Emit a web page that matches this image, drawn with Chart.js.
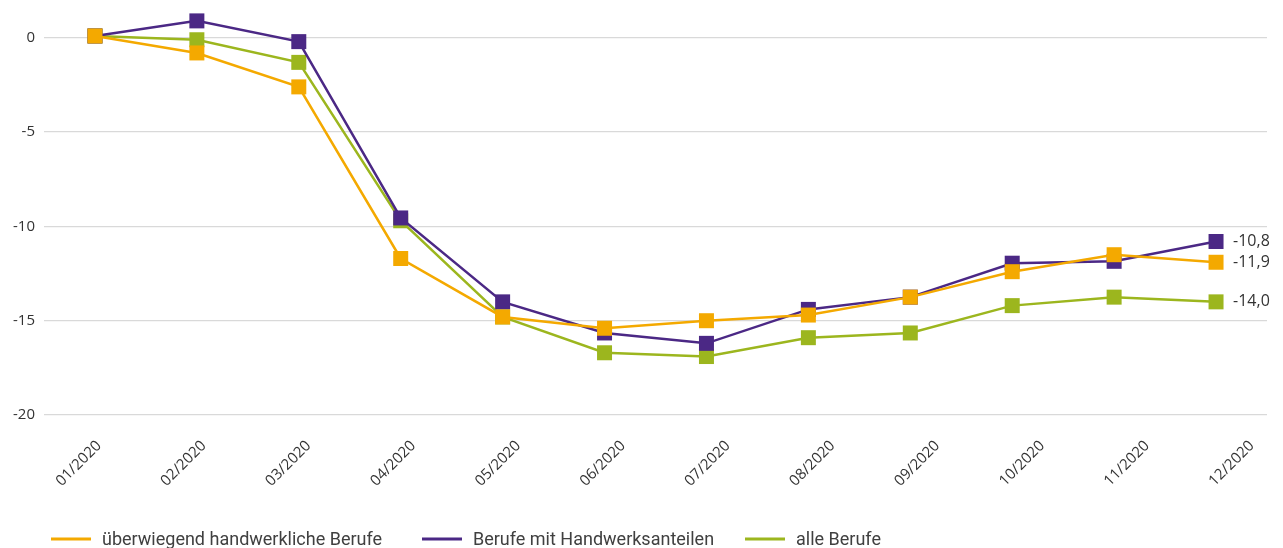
<!DOCTYPE html>
<html>
<head>
<meta charset="utf-8">
<script src="https://cdn.jsdelivr.net/npm/chart.js@4/dist/chart.umd.min.js"></script>
<style>
  html, body { margin: 0; padding: 0; background: #ffffff; }
  #wrap { width: 1283px; height: 548px; position: relative; }
</style>
</head>
<body>
<div id="wrap"><canvas id="c" width="1283" height="548"></canvas></div>
<script>
// ---- data ----
const categories = ['01/2020','02/2020','03/2020','04/2020','05/2020','06/2020','07/2020','08/2020','09/2020','10/2020','11/2020','12/2020'];
const seriesNames = ['überwiegend handwerkliche Berufe', 'Berufe mit Handwerksanteilen', 'alle Berufe'];
const handwerklich     = [0.1, -0.8, -2.6, -11.7, -14.8, -15.4, -15.0, -14.7, -13.75, -12.4, -11.5, -11.9];
const handwerksanteile = [0.1,  0.9, -0.2,  -9.55, -14.0, -15.65, -16.2, -14.4, -13.75, -11.95, -11.85, -10.8];
const alleBerufe       = [0.1, -0.1, -1.3,  -9.7, -14.8, -16.7, -16.9, -15.9, -15.65, -14.2, -13.75, -14.0];
const yTicks = [0, -5, -10, -15, -20];
const colors = ['#F4A900', '#4B2885', '#9CB61E'];

// ---- plugins ----
const endLabelPlugin = {
  id: 'endLabels',
  afterDatasetsDraw(chart) {
    const ctx = chart.ctx;
    ctx.save();
    ctx.font = '16px "Open Sans"';
    ctx.fillStyle = '#333333';
    ctx.textAlign = 'left';
    ctx.textBaseline = 'middle';
    chart.data.datasets.forEach((ds, i) => {
      const meta = chart.getDatasetMeta(i);
      const last = meta.data[meta.data.length - 1];
      const v = ds.data[ds.data.length - 1];
      const txt = v.toFixed(1).replace('.', ',');
      ctx.fillText(txt, last.x + 17, last.y);
    });
    ctx.restore();
  }
};

const legendPlugin = {
  id: 'bottomLegend',
  afterDraw(chart) {
    const ctx = chart.ctx;
    const starts = [51, 422, 745];
    ctx.save();
    chart.data.datasets.forEach((ds, i) => {
      const x = starts[i];
      ctx.strokeStyle = ds.borderColor;
      ctx.lineWidth = 3;
      ctx.beginPath();
      ctx.moveTo(x, 539);
      ctx.lineTo(x + 40, 539);
      ctx.stroke();
      ctx.fillStyle = '#404040';
      ctx.font = '18px Roboto';
      ctx.textAlign = 'left';
      ctx.textBaseline = 'alphabetic';
      ctx.fillText(ds.label, x + 51, 545);
    });
    ctx.restore();
  }
};

function makeDataset(label, data, color) {
  return {
    label: label,
    data: data,
    xAxisID: 'xd',
    yAxisID: 'y',
    borderColor: color,
    backgroundColor: color,
    borderWidth: 2.5,
    pointStyle: 'rect',
    pointRadius: 10.6,
    pointHoverRadius: 10.6,
    pointBorderWidth: 0,
    pointBackgroundColor: color,
    tension: 0,
    fill: false,
    clip: false
  };
}

function draw() {
  new Chart(document.getElementById('c'), {
    type: 'line',
    data: {
      labels: categories,
      datasets: [
        makeDataset(seriesNames[0], handwerklich, colors[0]),
        makeDataset(seriesNames[1], handwerksanteile, colors[1]),
        makeDataset(seriesNames[2], alleBerufe, colors[2])
      ]
    },
    options: {
      responsive: false,
      animation: false,
      devicePixelRatio: 1,
      layout: { padding: { top: 19, bottom: 40, left: 0, right: 16 } },
      plugins: {
        legend: { display: false },
        tooltip: { enabled: false }
      },
      scales: {
        xd: {
          type: 'category',
          offset: true,
          display: false
        },
        x: {
          type: 'linear',
          position: 'bottom',
          min: -0.5248,
          max: 11.145,
          grid: { display: false },
          border: { display: false },
          afterBuildTicks: (s) => { s.ticks = categories.map((_, i) => ({ value: i })); },
          afterFit: (s) => { s.height = 93; },
          ticks: {
            autoSkip: false,
            minRotation: 45,
            maxRotation: 45,
            padding: 14,
            color: '#333333',
            font: { family: '"Open Sans"', size: 15 },
            callback: (v) => categories[v]
          }
        },
        y: {
          min: -20,
          max: 1,
          afterBuildTicks: (s) => { s.ticks = yTicks.map(v => ({ value: v })); },
          afterFit: (s) => { s.width = 44; },
          grid: { color: '#d9d9d9', lineWidth: 1.3, drawTicks: false },
          border: { display: false },
          ticks: {
            padding: 9,
            color: '#333333',
            font: { family: '"Open Sans"', size: 15 },
            callback: (v) => String(v)
          }
        }
      }
    },
    plugins: [endLabelPlugin, legendPlugin]
  });
}

Promise.all([
  document.fonts.load('15px "Open Sans"'),
  document.fonts.load('18px Roboto')
]).then(draw, draw);
</script>
</body>
</html>
